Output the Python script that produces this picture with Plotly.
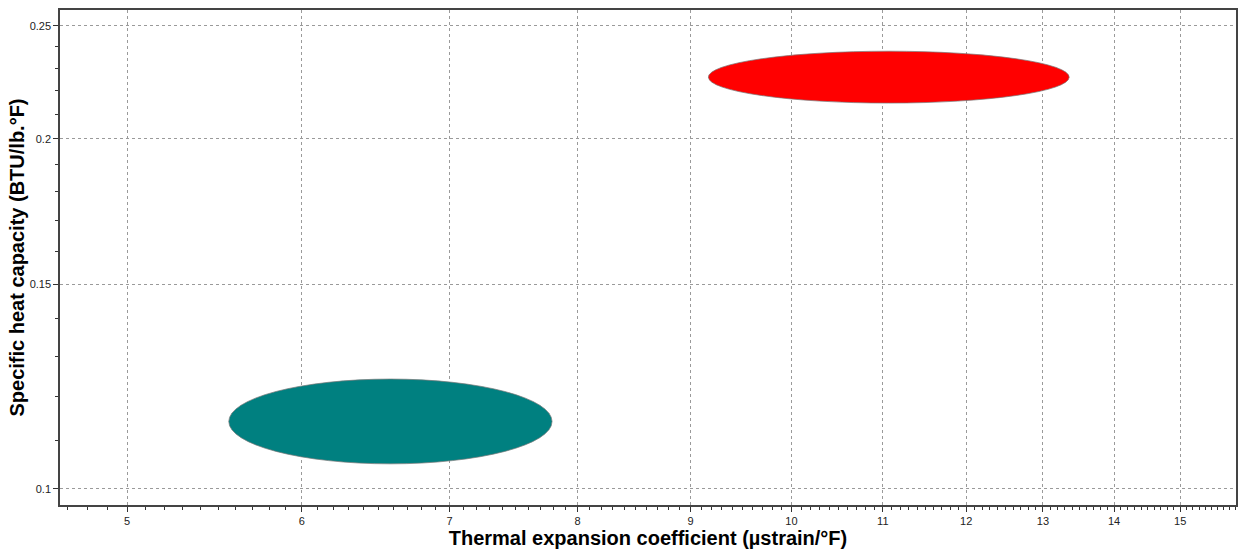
import plotly.graph_objs as go

# material bubbles: x range (min/max), y range (min/max), colour
materials = ["Material A", "Material B"]
cte_min = [5.56, 9.17]
cte_max = [7.79, 13.36]
cp_min = [0.1051, 0.2146]
cp_max = [0.1243, 0.2378]
colors = ["#008080", "#ff0000"]

x_ticks = [5, 6, 7, 8, 9, 10, 11, 12, 13, 14, 15]
y_ticks = [0.1, 0.15, 0.2, 0.25]
y_labels = ["0.1", "0.15", "0.2", "0.25"]
x_minor = [round(4.7 + 0.1 * i, 1) for i in range(113)]
y_minor = [round(0.1 + 0.01 * i, 2) for i in range(16)]

x_range = [4.663, 15.90]
y_range = [0.09688, 0.2580]

fig = go.Figure()
# invisible trace so the axes exist
fig.add_trace(go.Scatter(x=x_range, y=y_range, mode="markers",
                         marker=dict(opacity=0), hoverinfo="skip", showlegend=False))

for name, x0, x1, y0, y1, c in zip(materials, cte_min, cte_max, cp_min, cp_max, colors):
    fig.add_shape(
        type="circle", xref="x", yref="y",
        x0=x0, x1=x1, y0=y0, y1=y1,
        fillcolor=c, line=dict(color="rgba(120,120,120,0.7)", width=1),
        layer="above",
    )

axis_font = dict(family="Liberation Sans, Arial", size=11, color="#222")
title_font = dict(family="Liberation Sans, Arial", size=20, color="#000")
fig.update_xaxes(
    type="log", range=[0.66861, 1.20140], autorange=False, automargin=False,
    tickvals=x_ticks, ticktext=[str(v) for v in x_ticks],
    ticks="outside", ticklen=5, tickcolor="#333", tickfont=axis_font,
    minor=dict(tickvals=x_minor, ticks="outside", ticklen=3, tickcolor="#333", showgrid=False),
    showgrid=True, gridcolor="#9a9a9a", griddash="3px,3px", gridwidth=1,
    showline=True, linecolor="#444", linewidth=1.5, mirror=True, zeroline=False,
    title=dict(text="<b>Thermal expansion coefficient (µstrain/°F)</b>",
               font=title_font, standoff=4),
)
fig.update_yaxes(
    type="log", range=[-1.01376, -0.58838], autorange=False, automargin=False,
    tickvals=y_ticks, ticktext=y_labels,
    ticks="outside", ticklen=5, tickcolor="#333", tickfont=axis_font,
    minor=dict(tickvals=y_minor, ticks="outside", ticklen=3, tickcolor="#333", showgrid=False),
    showgrid=True, gridcolor="#9a9a9a", griddash="3px,3px", gridwidth=1,
    showline=True, linecolor="#444", linewidth=1.5, mirror=True, zeroline=False,
    title=dict(text="<b>Specific heat capacity (BTU/lb.°F)</b>",
               font=title_font, standoff=0),
)
fig.update_layout(
    width=1244, height=554,
    margin=dict(l=60, r=8, t=10, b=49),
    plot_bgcolor="white", paper_bgcolor="white",
    showlegend=False,
)

fig.write_html("out.html", config={"displayModeBar": False},
               post_script="document.body.style.margin='0';")
